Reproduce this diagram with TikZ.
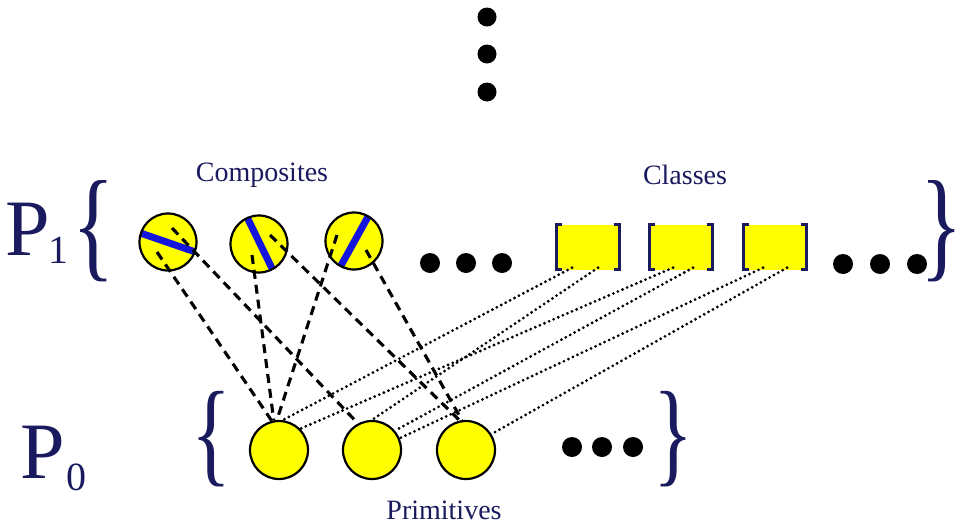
\documentclass[tikz,border=0pt]{standalone}
\usepackage{fontspec}
\setmainfont{Liberation Serif}
\definecolor{navy}{HTML}{1A1A5E}
\definecolor{ylw}{HTML}{FFFF00}
\definecolor{barblue}{HTML}{1414DC}
\newcommand{\narrowbrace}[1]{\scalebox{0.72}[1]{#1}}
\begin{document}
\begin{tikzpicture}[x=1pt,y=-1pt,
  comp/.style={circle,fill=ylw,minimum size=57pt,inner sep=0pt},
  prim/.style={circle,fill=ylw,draw=black,line width=2.2pt,minimum size=58pt,inner sep=0pt},
  classbox/.style={rectangle,fill=ylw,minimum width=63pt,minimum height=45pt,inner sep=0pt},
  bracket/.style={draw=navy,line width=3.4pt},
  bar/.style={draw=barblue,line width=7pt},
  ring/.style={draw=black,line width=2.2pt},
  dashline/.style={draw=black,line width=3.1pt,dash pattern=on 9pt off 6pt},
  dotline/.style={draw=black,line width=3.1pt,line cap=round,dash pattern=on 0pt off 5pt},
  lbl/.style={text=navy,font=\fontsize{28}{28}\selectfont,inner sep=0pt},
  bigp/.style={text=navy,font=\fontsize{80}{80}\selectfont,inner sep=0pt,anchor=base west},
  subp/.style={text=navy,font=\fontsize{40}{40}\selectfont,inner sep=0pt,anchor=base west},
  brace/.style={text=navy,inner sep=0pt,anchor=base west},
  bigdot/.style={fill=black}
]
\useasboundingbox (0,0) rectangle (961,525);

% vertical ellipsis
\fill[bigdot] (487,17) circle[radius=9.5];
\fill[bigdot] (487,54) circle[radius=9.5];
\fill[bigdot] (487,92) circle[radius=9.5];

% labels
\node[lbl] (lcomp) at (262,175) {Composites};
\node[lbl] (lclass) at (685,175) {Classes};
\node[lbl] (lprim) at (444,510) {Primitives};

% P1 / P0
\node[bigp] (p1txt) at (5,255) {P};
\node[subp] (p1sub) at (48,263) {1};
\node[bigp] (p0txt) at (20,478) {P};
\node[subp] (p0sub) at (66,490) {0};

% braces
\node[brace,font=\fontsize{122.5}{122.5}\selectfont] (b1l) at (72,265) {\narrowbrace{\{}};
\node[brace,font=\fontsize{122.5}{122.5}\selectfont] (b1r) at (920,265) {\narrowbrace{\}}};
\node[brace,font=\fontsize{115.5}{115.5}\selectfont] (b0l) at (191,471) {\narrowbrace{\{}};
\node[brace,font=\fontsize{115.5}{115.5}\selectfont] (b0r) at (653,471) {\narrowbrace{\}}};

% composites
\node[comp] (c1) at (168,242) {};
\node[comp] (c2) at (259,244) {};
\node[comp] (c3) at (354,241) {};
\begin{scope}
  \clip (c1.center) circle[radius=28.5];
  \draw[bar] (c1.162) -- (c1.340);
\end{scope}
\begin{scope}
  \clip (c2.center) circle[radius=28.5];
  \draw[bar] (c2.114) -- (c2.298);
\end{scope}
\begin{scope}
  \clip (c3.center) circle[radius=28.5];
  \draw[bar] (c3.60) -- (c3.242);
\end{scope}
\draw[ring] (c1.center) circle[radius=28.5];
\draw[ring] (c2.center) circle[radius=28.5];
\draw[ring] (c3.center) circle[radius=28.5];

% ellipsis dots
\fill[bigdot] (430,263) circle[radius=10];
\fill[bigdot] (466,263) circle[radius=10];
\fill[bigdot] (502,263) circle[radius=10];
\fill[bigdot] (843,264) circle[radius=10];
\fill[bigdot] (880,264) circle[radius=10];
\fill[bigdot] (917,264) circle[radius=10];
\fill[bigdot] (572,447) circle[radius=10];
\fill[bigdot] (602,447) circle[radius=10];
\fill[bigdot] (633,447) circle[radius=10];

% classes
\node[classbox] (r1) at (588,247) {};
\node[classbox] (r2) at (681,247) {};
\node[classbox] (r3) at (775,247) {};
\foreach \r in {r1,r2,r3}{
  \draw[bracket] ([xshift=6pt]\r.north west) -- (\r.north west) -- (\r.south west) -- ([xshift=6pt]\r.south west);
  \draw[bracket] ([xshift=-6pt]\r.north east) -- (\r.north east) -- (\r.south east) -- ([xshift=-6pt]\r.south east);
}

% primitives
\node[prim] (p1) at (279,450) {};
\node[prim] (p2) at (372,450) {};
\node[prim] (p3) at (466,450) {};

% dashed connectors
\draw[dashline] ([shift={(-11,10)}]c1.center) -- (p1.104);
\draw[dashline] ([shift={(4,-14)}]c1.center) -- (p2.118);
\draw[dashline] ([shift={(-7,11)}]c2.center) -- (p1.100);
\draw[dashline] ([shift={(11,-9)}]c2.center) -- (p3.102);
\draw[dashline] ([shift={(-17,-6)}]c3.center) -- (p1.94);
\draw[dashline] ([shift={(12,9)}]c3.center) -- (p3.98);

% dotted connectors
\draw[dotline] ([shift={(-16,-2)}]r1.south) -- (p1.83);
\draw[dotline] ([shift={(10,-2)}]r1.south) -- (p2.90);
\draw[dotline] ([shift={(-8,-2)}]r2.south) -- (p1.45);
\draw[dotline] ([shift={(12,-2)}]r2.south) -- (p2.40);
\draw[dotline] ([shift={(-12,-2)}]r3.south) -- (p2.23);
\draw[dotline] ([shift={(12,-2)}]r3.south) -- (p3.32);

\end{tikzpicture}
\end{document}
